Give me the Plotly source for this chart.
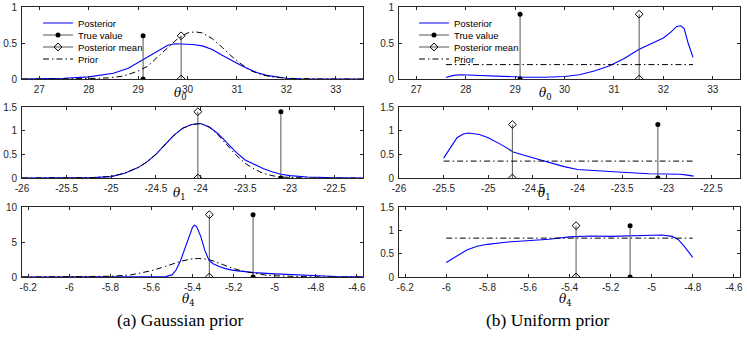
import plotly.graph_objects as go

# ---- data ----
# row 1: theta_0
t0_range = [26.65, 33.55]
t0_ticks = [27, 28, 29, 30, 31, 32, 33]
t0_gauss_post_x = [26.65, 27.0, 27.5, 28.0, 28.5, 28.8, 29.0, 29.2, 29.4, 29.6, 29.75, 29.9, 30.1,
                   30.3, 30.5, 30.7, 30.85, 31.0, 31.2, 31.4, 31.6, 31.8, 32.0, 32.3, 32.7, 33.55]
t0_gauss_post_y = [0.0, 0.003, 0.01, 0.03, 0.08, 0.15, 0.23, 0.31, 0.4, 0.47, 0.49, 0.49, 0.48,
                   0.46, 0.41, 0.33, 0.27, 0.22, 0.15, 0.09, 0.05, 0.025, 0.01, 0.003, 0.0, 0.0]
t0_gauss_prior_x = [26.65, 27.5, 28.0, 28.4, 28.7, 29.0, 29.2, 29.4, 29.6, 29.8, 30.0, 30.15,
                    30.3, 30.5, 30.7, 30.9, 31.1, 31.3, 31.5, 31.7, 32.0, 32.3, 32.7, 33.55]
t0_gauss_prior_y = [0.0, 0.002, 0.006, 0.015, 0.04, 0.11, 0.18, 0.31, 0.44, 0.56, 0.64, 0.655,
                    0.64, 0.56, 0.44, 0.31, 0.2, 0.11, 0.06, 0.03, 0.01, 0.003, 0.0, 0.0]
t0_unif_post_x = [27.6, 27.75, 27.9, 28.1, 28.4, 28.8, 29.2, 29.6, 30.0, 30.3, 30.6, 30.9, 31.2,
                  31.5, 31.8, 32.0, 32.15, 32.27, 32.35, 32.42, 32.5, 32.6]
t0_unif_post_y = [0.02, 0.05, 0.06, 0.055, 0.04, 0.03, 0.025, 0.025, 0.035, 0.06, 0.11, 0.18, 0.28,
                  0.41, 0.5, 0.57, 0.65, 0.73, 0.74, 0.7, 0.5, 0.3]
t0_unif_prior_x = [27.6, 32.6]
t0_unif_prior_y = [0.2, 0.2]

# row 2: theta_1
t1_range = [-26.0, -22.18]
t1_ticks = [-26, -25.5, -25, -24.5, -24, -23.5, -23, -22.5]
t1_gauss_post_x = [-26.0, -25.5, -25.2, -25.0, -24.85, -24.7, -24.6, -24.5, -24.4, -24.3, -24.2,
                   -24.1, -24.0, -23.9, -23.8, -23.7, -23.6, -23.5, -23.4, -23.3, -23.2, -23.1,
                   -23.0, -22.8, -22.5, -22.18]
t1_gauss_post_y = [0.0, 0.002, 0.01, 0.03, 0.1, 0.22, 0.34, 0.5, 0.7, 0.9, 1.05, 1.13, 1.15, 1.08,
                   0.93, 0.74, 0.54, 0.38, 0.29, 0.2, 0.13, 0.08, 0.05, 0.02, 0.005, 0.0]
t1_gauss_prior_x = t1_gauss_post_x
t1_gauss_prior_y = [0.0, 0.002, 0.01, 0.035, 0.1, 0.22, 0.34, 0.5, 0.7, 0.9, 1.05, 1.13, 1.15,
                    1.07, 0.9, 0.7, 0.48, 0.31, 0.19, 0.1, 0.05, 0.02, 0.01, 0.0, 0.0, 0.0]
t1_unif_post_x = [-25.5, -25.42, -25.35, -25.28, -25.22, -25.1, -25.0, -24.85, -24.72, -24.6,
                  -24.45, -24.3, -24.15, -24.0, -23.8, -23.5, -23.2, -23.0, -22.85, -22.77, -22.7]
t1_unif_post_y = [0.42, 0.65, 0.85, 0.93, 0.95, 0.92, 0.85, 0.7, 0.55, 0.48, 0.4, 0.31, 0.24, 0.18,
                  0.15, 0.12, 0.09, 0.085, 0.08, 0.06, 0.04]
t1_unif_prior_x = [-25.5, -22.7]
t1_unif_prior_y = [0.357, 0.357]

# row 3: theta_4
t4_range = [-6.23, -4.57]
t4_ticks = [-6.2, -6, -5.8, -5.6, -5.4, -5.2, -5, -4.8, -4.6]
t4_gauss_post_x = [-6.23, -5.6, -5.53, -5.5, -5.48, -5.46, -5.44, -5.42, -5.40, -5.39, -5.38,
                   -5.36, -5.34, -5.32, -5.30, -5.27, -5.24, -5.2, -5.15, -5.1, -5.0, -4.9, -4.8,
                   -4.7, -4.57]
t4_gauss_post_y = [0.0, 0.0, 0.05, 0.3, 1.0, 2.2, 3.8, 5.6, 7.1, 7.4, 7.2, 5.8, 3.8, 2.4, 1.9, 1.5,
                   1.2, 0.95, 0.75, 0.62, 0.45, 0.3, 0.18, 0.08, 0.02]
t4_gauss_prior_x = [-6.23, -6.0, -5.9, -5.8, -5.7, -5.65, -5.6, -5.55, -5.5, -5.45, -5.4, -5.37,
                    -5.33, -5.3, -5.25, -5.2, -5.15, -5.1, -5.05, -5.0, -4.9, -4.8, -4.57]
t4_gauss_prior_y = [0.0, 0.005, 0.03, 0.1, 0.3, 0.55, 0.9, 1.35, 1.85, 2.3, 2.6, 2.65, 2.55, 2.3,
                    1.75, 1.2, 0.8, 0.5, 0.3, 0.17, 0.05, 0.01, 0.0]
t4_unif_post_x = [-6.0, -5.95, -5.9, -5.85, -5.8, -5.7, -5.6, -5.5, -5.4, -5.3, -5.2, -5.1, -5.0,
                  -4.95, -4.9, -4.87, -4.84, -4.8]
t4_unif_post_y = [0.31, 0.45, 0.58, 0.66, 0.7, 0.75, 0.78, 0.81, 0.86, 0.88, 0.87, 0.88, 0.9, 0.9,
                  0.87, 0.8, 0.65, 0.42]
t4_unif_prior_x = [-6.0, -4.8]
t4_unif_prior_y = [0.833, 0.833]

# true values, posterior means and stem heights
true_vals = [29.1, -23.1, -5.105]
gauss_means = [29.87, -24.03, -5.318]
unif_means = [31.51, -24.73, -5.368]
gauss_stem_h = [0.6, 1.4, 8.9]
unif_stem_h = [0.9, 1.13, 1.1]

y_ranges_gauss = [[0, 1], [0, 1.5], [0, 10]]
y_ticks_gauss = [[0, 0.5, 1], [0, 0.5, 1, 1.5], [0, 5, 10]]
y_ranges_unif = [[0, 1], [0, 1.5], [0, 1.5]]
y_ticks_unif = [[0, 0.5, 1], [0, 0.5, 1, 1.5], [0, 0.5, 1, 1.5]]

series_names = ["Posterior", "True value", "Posterior mean", "Prior"]
x_labels = ["<i>θ</i><sub>0</sub>", "<i>θ</i><sub>1</sub>", "<i>θ</i><sub>4</sub>"]
captions = ["(a) Gaussian prior", "(b) Uniform prior"]


def tick_text(vals):
    return ["%g" % v for v in vals]


W, H = 747, 338
col_px = [(22, 363), (399, 740)]
row_px = [(7, 79), (107, 178), (207, 277)]
label_x_px = [[180, 545], [179, 544], [188, 565]]
label_y_px = [94, 194, 300]
legend_x_px = [38, 414]
legend_y_px = [23, 35, 47, 59]

AX = "#262626"
BLUE = "#0000ff"
STEM = "#555555"
tick_font = dict(family="Liberation Sans, Arial, sans-serif", size=10, color=AX)

rows = [
    dict(rng=t0_range, ticks=t0_ticks,
         gauss=(t0_gauss_post_x, t0_gauss_post_y, t0_gauss_prior_x, t0_gauss_prior_y),
         unif=(t0_unif_post_x, t0_unif_post_y, t0_unif_prior_x, t0_unif_prior_y)),
    dict(rng=t1_range, ticks=t1_ticks,
         gauss=(t1_gauss_post_x, t1_gauss_post_y, t1_gauss_prior_x, t1_gauss_prior_y),
         unif=(t1_unif_post_x, t1_unif_post_y, t1_unif_prior_x, t1_unif_prior_y)),
    dict(rng=t4_range, ticks=t4_ticks,
         gauss=(t4_gauss_post_x, t4_gauss_post_y, t4_gauss_prior_x, t4_gauss_prior_y),
         unif=(t4_unif_post_x, t4_unif_post_y, t4_unif_prior_x, t4_unif_prior_y)),
]


def legend_id(col, item):
    k = col * 4 + item + 1
    return "legend" if k == 1 else "legend%d" % k


fig = go.Figure()
layout = {}
annotations = []

n = 0
for r, row in enumerate(rows):
    for c, key in enumerate(["gauss", "unif"]):
        n += 1
        xa = "x" if n == 1 else "x%d" % n
        ya = "y" if n == 1 else "y%d" % n
        show = r == 0
        post_x, post_y, prior_x, prior_y = row[key]
        mean = gauss_means[r] if c == 0 else unif_means[r]
        h = gauss_stem_h[r] if c == 0 else unif_stem_h[r]

        fig.add_trace(go.Scatter(
            x=post_x, y=post_y, mode="lines", name=series_names[0],
            line=dict(color=BLUE, width=1.1), xaxis=xa, yaxis=ya,
            showlegend=show, legend=legend_id(c, 0)))
        fig.add_trace(go.Scatter(
            x=[true_vals[r], true_vals[r]], y=[0, h], mode="lines+markers",
            name=series_names[1], line=dict(color=STEM, width=1),
            marker=dict(symbol="circle", size=5, color="black"),
            xaxis=xa, yaxis=ya, showlegend=show, legend=legend_id(c, 1)))
        fig.add_trace(go.Scatter(
            x=[mean, mean], y=[0, h], mode="lines+markers",
            name=series_names[2], line=dict(color=STEM, width=1),
            marker=dict(symbol="diamond-open", size=6, color="black",
                        line=dict(width=1, color="black")),
            xaxis=xa, yaxis=ya, showlegend=show, legend=legend_id(c, 2)))
        fig.add_trace(go.Scatter(
            x=prior_x, y=prior_y, mode="lines", name=series_names[3],
            line=dict(color="black", width=1, dash="6px,3px,1.5px,3px"),
            xaxis=xa, yaxis=ya, showlegend=show, legend=legend_id(c, 3)))

        x0, x1 = col_px[c]
        top, bot = row_px[r]
        yr = y_ranges_gauss[r] if c == 0 else y_ranges_unif[r]
        yt = y_ticks_gauss[r] if c == 0 else y_ticks_unif[r]
        axis_common = dict(showline=True, linecolor=AX, linewidth=0.8, mirror="allticks",
                           ticks="inside", ticklen=3, tickcolor=AX, tickwidth=0.8,
                           showgrid=False, zeroline=False, tickfont=tick_font, fixedrange=True)
        layout["xaxis" if n == 1 else "xaxis%d" % n] = dict(
            domain=[x0 / W, x1 / W], anchor=ya, range=row["rng"],
            tickmode="array", tickvals=row["ticks"], ticktext=tick_text(row["ticks"]),
            ticklabelstandoff=1, **axis_common)
        layout["yaxis" if n == 1 else "yaxis%d" % n] = dict(
            domain=[1 - bot / H, 1 - top / H], anchor=xa, range=yr,
            tickmode="array", tickvals=yt, ticktext=tick_text(yt),
            ticklabelstandoff=2, **axis_common)

        annotations.append(dict(
            text=x_labels[r], x=label_x_px[r][c] / W, y=1 - label_y_px[r] / H,
            xref="paper", yref="paper", showarrow=False, xanchor="center", yanchor="middle",
            font=dict(family="DejaVu Serif, serif", size=12, color="black")))

for c, cap in enumerate(captions):
    annotations.append(dict(
        text=cap, x=[180, 548][c] / W, y=1 - 320 / H, xref="paper", yref="paper",
        showarrow=False, xanchor="center", yanchor="middle",
        font=dict(family="Liberation Serif, serif", size=17.5, color="black")))

# one single-entry legend per row so the rows can sit as tight as in the reference
legends = {}
for c in range(2):
    for i in range(4):
        legends[legend_id(c, i)] = dict(
            x=legend_x_px[c] / W, y=1 - legend_y_px[i] / H, xanchor="left", yanchor="middle",
            font=dict(family="Liberation Sans, Arial, sans-serif", size=9.5, color="black"),
            bgcolor="rgba(0,0,0,0)", borderwidth=0, itemwidth=30)

fig.update_layout(
    width=W, height=H,
    margin=dict(l=0, r=0, t=0, b=0, autoexpand=False),
    paper_bgcolor="white", plot_bgcolor="white",
    showlegend=True,
    annotations=annotations,
    **legends,
    **layout,
)

# the page body has a default 8px margin; drop it so the figure fills the window
fig.write_html("out.html", config={"displayModeBar": False},
               post_script="document.body.style.margin = '0';")
